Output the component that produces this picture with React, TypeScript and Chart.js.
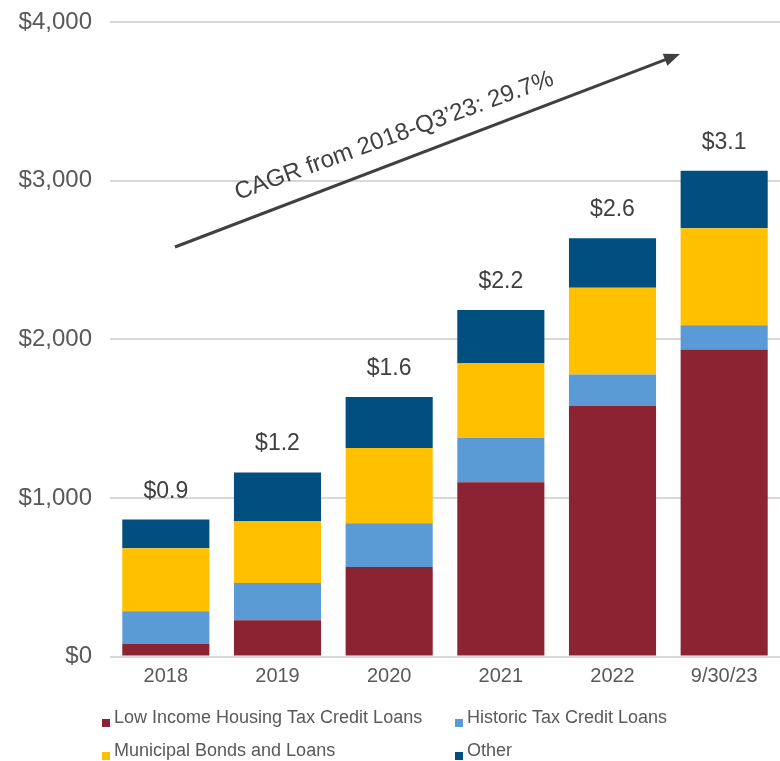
import React, { useEffect, useRef } from "react";
import Chart from "chart.js/auto";

const categories = ["2018", "2019", "2020", "2021", "2022", "9/30/23"];
const lihtcLoans = [80, 229, 564, 1099, 1581, 1935];
const historicLoans = [206, 234, 276, 280, 196, 154];
const municipalLoans = [396, 391, 474, 472, 548, 610];
const otherLoans = [181, 306, 322, 333, 311, 363];
const seriesNames = [
  "Low Income Housing Tax Credit Loans",
  "Historic Tax Credit Loans",
  "Municipal Bonds and Loans",
  "Other",
];
const seriesColors = ["#8B2332", "#5B9BD5", "#FFC000", "#004F7F"];
const yTicks = [0, 1000, 2000, 3000, 4000];
const cagrText = "CAGR from 2018-Q3\u201923: 29.7%";

const FONT = '"Liberation Sans", Arial, Helvetica, sans-serif';

export default function App() {
  const ref = useRef<HTMLCanvasElement | null>(null);

  useEffect(() => {
    const canvas = ref.current;
    if (!canvas) return;
    const seriesData = [lihtcLoans, historicLoans, municipalLoans, otherLoans];

    const overlay = {
      id: "overlay",
      afterDatasetsDraw(chart: any) {
        const ctx = chart.ctx as CanvasRenderingContext2D;
        const xs = chart.scales.x;
        const ys = chart.scales.y;
        ctx.save();
        // totals above bars
        ctx.fillStyle = "#404040";
        ctx.font = `23px ${FONT}`;
        ctx.textAlign = "center";
        ctx.textBaseline = "alphabetic";
        categories.forEach((c, i) => {
          const total = seriesData.reduce((s, arr) => s + arr[i], 0);
          const x = xs.getPixelForValue(i);
          const y = ys.getPixelForValue(total);
          ctx.fillText("$" + (total / 1000).toFixed(1), x, y - 22);
        });

        // CAGR arrow
        const ca = chart.chartArea;
        const x0 = ca.left + 65;
        const y0 = 247;
        const x1 = ca.left + 570;
        const y1 = 54;
        const ang = Math.atan2(y1 - y0, x1 - x0);
        ctx.strokeStyle = "#404040";
        ctx.fillStyle = "#404040";
        ctx.lineWidth = 3;
        ctx.beginPath();
        ctx.moveTo(x0, y0);
        ctx.lineTo(x1 - 12 * Math.cos(ang), y1 - 12 * Math.sin(ang));
        ctx.stroke();
        ctx.beginPath();
        const hl = 16;
        const hw = 6.5;
        const bx = x1 - hl * Math.cos(ang);
        const by = y1 - hl * Math.sin(ang);
        ctx.moveTo(x1, y1);
        ctx.lineTo(bx + hw * Math.sin(ang), by - hw * Math.cos(ang));
        ctx.lineTo(bx - hw * Math.sin(ang), by + hw * Math.cos(ang));
        ctx.closePath();
        ctx.fill();

        // CAGR text
        ctx.save();
        ctx.translate(238, 200);
        ctx.rotate((-20 * Math.PI) / 180);
        ctx.font = `24px ${FONT}`;
        ctx.textAlign = "left";
        ctx.textBaseline = "alphabetic";
        ctx.fillStyle = "#404040";
        ctx.fillText(cagrText, 0, 0);
        ctx.restore();

        // legend
        const cols = [102, 455];
        const rows = [718, 751];
        ctx.font = `18px ${FONT}`;
        ctx.textAlign = "left";
        ctx.textBaseline = "middle";
        seriesNames.forEach((name, i) => {
          const cx = cols[i % 2];
          const cy = rows[Math.floor(i / 2)];
          ctx.fillStyle = seriesColors[i];
          ctx.fillRect(cx, cy + 1, 8, 8);
          ctx.fillStyle = "#595959";
          ctx.fillText(name, cx + 12, cy);
        });
        ctx.restore();
      },
    };

    const chart = new Chart(canvas, {
      type: "bar",
      data: {
        labels: categories,
        datasets: seriesData.map((d, i) => ({
          label: seriesNames[i],
          data: d,
          backgroundColor: seriesColors[i],
          borderWidth: 0,
          barPercentage: 0.78,
          categoryPercentage: 1,
        })),
      },
      options: {
        responsive: false,
        animation: false,
        devicePixelRatio: 1,
        layout: { padding: { top: 22, left: 0, right: 0, bottom: 72.5 } },
        plugins: {
          legend: { display: false },
          tooltip: { enabled: false },
        },
        scales: {
          x: {
            stacked: true,
            grid: { display: false },
            border: { display: false },
            ticks: {
              color: "#595959",
              font: { family: FONT, size: 20 },
              padding: 0,
            },
          },
          y: {
            stacked: true,
            min: 0,
            max: 4000,
            afterBuildTicks: (scale: any) => {
              scale.ticks = yTicks.map((v) => ({ value: v }));
            },
            afterFit: (scale: any) => {
              scale.width = 110;
              scale.paddingTop = 0;
              scale.paddingBottom = 0;
            },
            grid: { color: "#D9D9D9", lineWidth: 2, drawTicks: false },
            border: { display: false },
            ticks: {
              color: "#595959",
              font: { family: FONT, size: 24 },
              padding: 18,
              callback: (v: any) => "$" + Number(v).toLocaleString("en-US"),
            },
          },
        },
      },
      plugins: [overlay],
    });
    return () => chart.destroy();
  }, []);

  return (
    <div style={{ position: "absolute", left: 0, top: 0, width: 780, height: 761, background: "#fff" }}>
      <canvas ref={ref} width={780} height={761} style={{ display: "block" }} />
    </div>
  );
}
